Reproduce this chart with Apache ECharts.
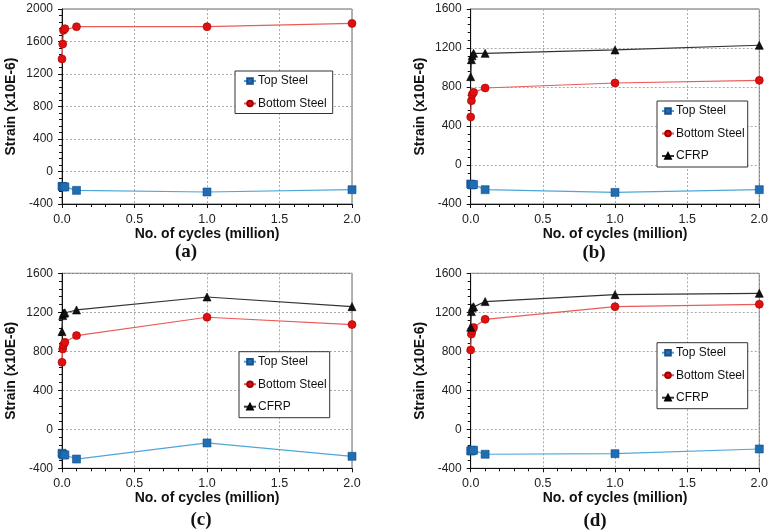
<!DOCTYPE html>
<html><head><meta charset="utf-8">
<script src="https://cdn.jsdelivr.net/npm/echarts@6/dist/echarts.min.js"></script>
<style>html,body{margin:0;padding:0;background:#fff}#c{width:771px;height:531px}</style>
</head><body><div id="c"></div>
<script>
// x values: number of cycles (million)
const cycles = [0, 0.005, 0.01, 0.02, 0.1, 1.0, 2.0];

// Panel (a)
const aTop    = [-183, -185, -190, -190, -232, -252, -224];
const aBottom = [1385, 1569, 1737, 1758, 1782, 1782, 1823];

// Panel (b)
const bTop    = [-195, -200, -205, -200, -253, -281, -253];
const bBottom = [492, 660, 722, 745, 790, 841, 868];
const bCFRP   = [906, 1080, 1120, 1145, 1145, 1180, 1228];

// Panel (c)
const cTop    = [-246, -255, -263, -263, -305, -140, -277];
const cBottom = [687, 824, 865, 892, 961, 1149, 1074];
const cCFRP   = [1002, 1166, 1190, 1195, 1224, 1357, 1258];

// Panel (d)
const dTop    = [-222, -220, -215, -215, -256, -250, -202];
const dBottom = [813, 977, 1012, 1043, 1128, 1258, 1282];
const dCFRP   = [1047, 1207, 1248, 1258, 1310, 1381, 1395];

const xTicks = [0, 0.5, 1.0, 1.5, 2.0];
const captions = ['a', 'b', 'c', 'd'];

const names = ['Top Steel', 'Bottom Steel', 'CFRP'];
const panels = [
  {top: aTop, bottom: aBottom, cfrp: null, ymax: 2000},
  {top: bTop, bottom: bBottom, cfrp: bCFRP, ymax: 1600},
  {top: cTop, bottom: cBottom, cfrp: cCFRP, ymax: 1600},
  {top: dTop, bottom: dBottom, cfrp: dCFRP, ymax: 1600}
];

const gridPos = [
  {left: 62, top: 9},
  {left: 470.7, top: 9},
  {left: 62, top: 273.3},
  {left: 470.7, top: 273.3}
];

const font = 'Liberation Sans, Arial, sans-serif';
const grids = [], xAxes = [], yAxes = [], series = [], legends = [], titles = [];

const styles = {
  'Top Steel':    {symbol: 'rect', size: 8, color: '#1f6db3', border: '#17508a', line: '#4ea6d8'},
  'Bottom Steel': {symbol: 'circle', size: 8, color: '#e01010', border: '#a00000', line: '#ec5a5a'},
  'CFRP':         {symbol: 'triangle', size: 8, color: '#111', border: '#000', line: '#333'}
};

function mk(name, vals, i) {
  const s = styles[name];
  return {
    name: name, type: 'line', xAxisIndex: i, yAxisIndex: i,
    data: cycles.map((x, k) => [x, vals[k]]),
    symbol: s.symbol, symbolSize: s.size, showSymbol: true,
    itemStyle: {color: s.color, borderColor: s.border, borderWidth: 0.6},
    lineStyle: {color: s.line, width: 1.2},
    emphasis: {disabled: true}, animation: false, z: 5
  };
}

panels.forEach((p, i) => {
  grids.push({left: gridPos[i].left, top: gridPos[i].top, width: 290, height: 195,
    show: true, borderColor: '#666', borderWidth: 1});
  xAxes.push({
    type: 'value', gridIndex: i, min: 0, max: 2, interval: 0.5,
    name: 'No. of cycles (million)', nameLocation: 'middle', nameGap: 22,
    nameTextStyle: {fontFamily: font, fontWeight: 'bold', fontSize: 14, color: '#111'},
    axisLine: {show: true, onZero: false, lineStyle: {color: '#111', width: 1}},
    axisTick: {show: true, inside: false, length: 4, lineStyle: {color: '#111'}},
    minorTick: {show: true, splitNumber: 5, length: 3, lineStyle: {color: '#111'}},
    splitLine: {show: true, lineStyle: {color: '#aaa', type: [2, 2], width: 1}},
    axisLabel: {fontFamily: font, fontSize: 12.5, color: '#222', margin: 9,
      formatter: v => xTicks.includes(v) ? v.toFixed(1) : ''}
  });
  yAxes.push({
    type: 'value', gridIndex: i, min: -400, max: p.ymax, interval: 400,
    name: 'Strain (x10E-6)', nameLocation: 'middle', nameGap: 44, nameRotate: 90,
    nameTextStyle: {fontFamily: font, fontWeight: 'bold', fontSize: 14, color: '#111'},
    axisLine: {show: true, onZero: false, lineStyle: {color: '#111', width: 1}},
    axisTick: {show: true, inside: false, length: 4, lineStyle: {color: '#111'}},
    minorTick: {show: true, splitNumber: 5, length: 3, lineStyle: {color: '#111'}},
    splitLine: {show: true, lineStyle: {color: '#aaa', type: [2, 2], width: 1}},
    axisLabel: {fontFamily: font, fontSize: 12, color: '#222', margin: 9,
      formatter: v => String(v)}
  });
  series.push(mk('Top Steel', p.top, i));
  series.push(mk('Bottom Steel', p.bottom, i));
  if (p.cfrp) series.push(mk('CFRP', p.cfrp, i));
});

const legendPos = [
  {left: 235, top: 71, data: ['Top Steel', 'Bottom Steel'], padding: [4, 6, 4, 8]},
  {left: 657, top: 101, data: names, padding: [4, 3, 5, 4]},
  {left: 239, top: 351.7, data: names, padding: [4, 3, 5, 4]},
  {left: 657, top: 342.7, data: names, padding: [4, 3, 5, 4]}
];
legendPos.forEach(l => {
  legends.push({
    left: l.left, top: l.top, orient: 'vertical', data: l.data,
    padding: l.padding, itemGap: 10.5, itemWidth: 12, itemHeight: 7,
    borderColor: '#333', borderWidth: 1, backgroundColor: '#fff',
    selectedMode: false,
    textStyle: {fontFamily: font, fontSize: 12, color: '#111', padding: [0, 0, 0, -3]}
  });
});

const capPos = [[181, 238], [589, 239], [196, 506], [590, 507]];
captions.forEach((c, i) => {
  titles.push({
    text: '{p|(}{b|' + c + '}{p|)}',
    left: capPos[i][0], top: capPos[i][1], textAlign: 'center',
    textStyle: {rich: {
      p: {fontFamily: 'Liberation Serif, Times New Roman, serif', fontSize: 19, color: '#111'},
      b: {fontFamily: 'Liberation Serif, Times New Roman, serif', fontSize: 19, fontWeight: 'bold', color: '#111'}
    }}
  });
});

const chart = echarts.init(document.getElementById('c'), null, {renderer: 'canvas'});
chart.setOption({
  animation: false, backgroundColor: '#fff',
  title: titles, grid: grids, xAxis: xAxes, yAxis: yAxes, legend: legends, series: series
});
</script></body></html>
